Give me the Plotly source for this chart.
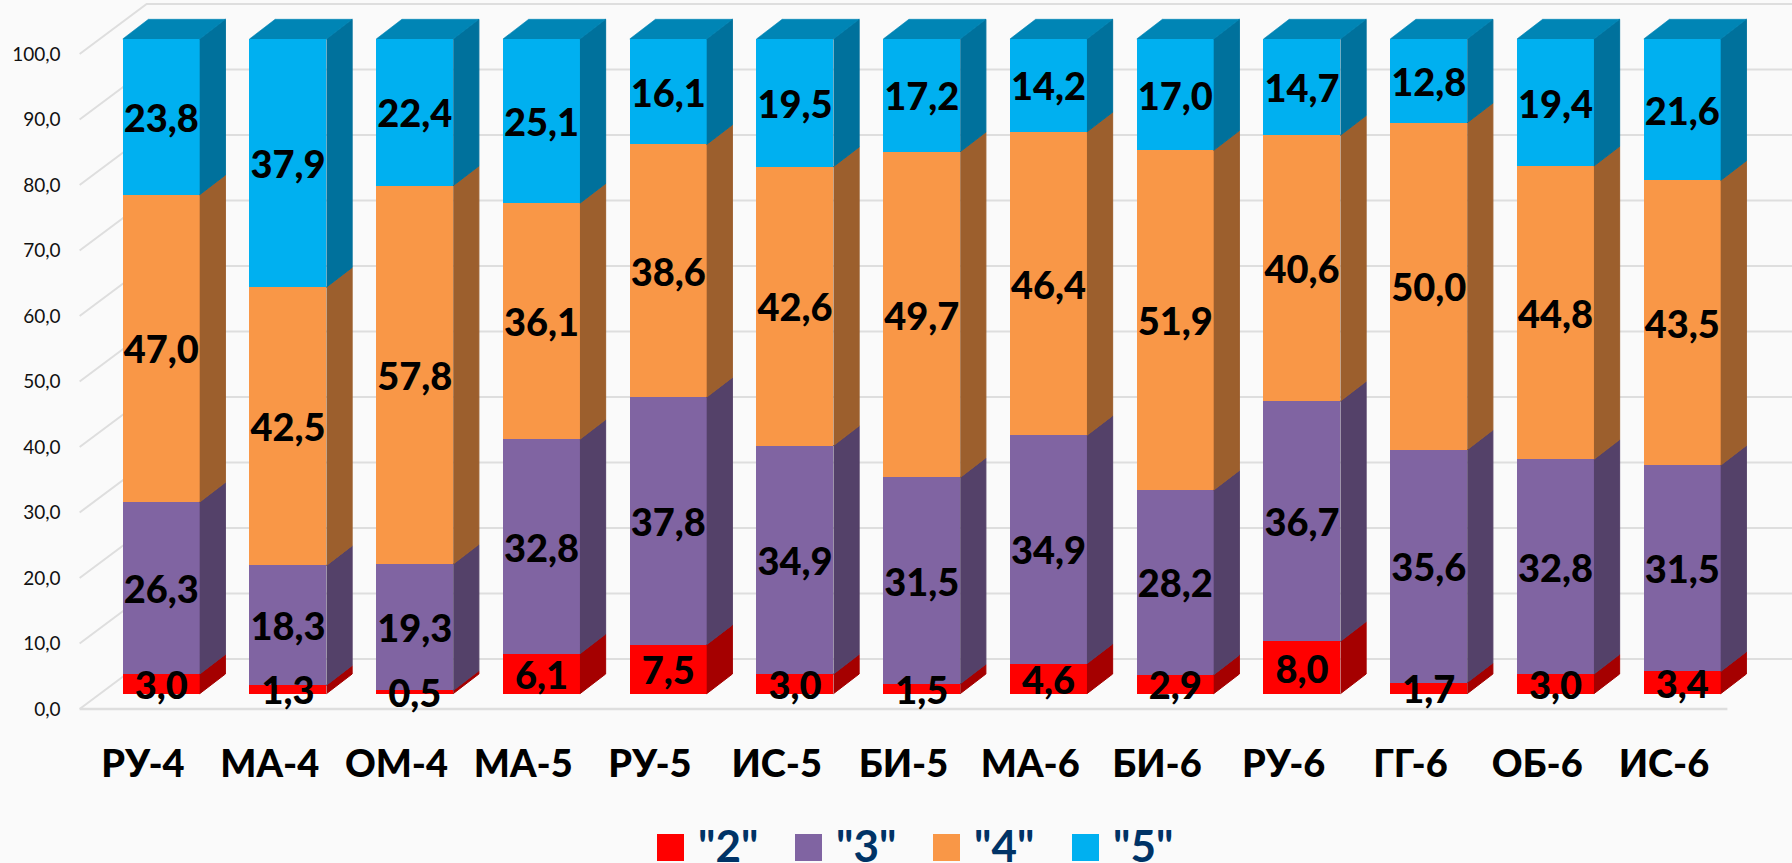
import plotly.graph_objects as go

categories = ["РУ-4", "МА-4", "ОМ-4", "МА-5", "РУ-5", "ИС-5", "БИ-5", "МА-6", "БИ-6", "РУ-6", "ГГ-6", "ОБ-6", "ИС-6"]
grade_2 = [3.0, 1.3, 0.5, 6.1, 7.5, 3.0, 1.5, 4.6, 2.9, 8.0, 1.7, 3.0, 3.4]
grade_3 = [26.3, 18.3, 19.3, 32.8, 37.8, 34.9, 31.5, 34.9, 28.2, 36.7, 35.6, 32.8, 31.5]
grade_4 = [47.0, 42.5, 57.8, 36.1, 38.6, 42.6, 49.7, 46.4, 51.9, 40.6, 50.0, 44.8, 43.5]
grade_5 = [23.8, 37.9, 22.4, 25.1, 16.1, 19.5, 17.2, 14.2, 17.0, 14.7, 12.8, 19.4, 21.6]
series_names = ['"2"', '"3"', '"4"', '"5"']
y_ticks = [0, 10, 20, 30, 40, 50, 60, 70, 80, 90, 100]

series_values = [grade_2, grade_3, grade_4, grade_5]
front_colors = ["#FF0000", "#8064A2", "#F99747", "#00B0F0"]
side_colors = ["#A50000", "#544169", "#9C5F2D", "#00719C"]
top_color = "#0085B5"
grid_color = "#DEDEDE"
bg_color = "#FAFAFA"
legend_text_color = "#003366"

W, H = 1792, 863
PITCH = 126.75
FONT = "Lato, 'Noto Sans', sans-serif"

# pixel anchors of the two coordinate systems (floor/wall axes and bar axes)
AX_X0, AX_Y0, AX_UNIT = 143.0, 709.0, 6.55
BAR_X0, BAR_Y0, BAR_UNIT = 161.2, 693.7, 6.547
BAR_W = 77 / PITCH
SIDE_DX, SIDE_DY = 25.7 / PITCH, 19.7 / BAR_UNIT
WALL_DX, WALL_DY = 67 / PITCH, 50 / AX_UNIT
LABEL_DROP = 5.5 / BAR_UNIT


def rng(x0, unit, size):
    return [-x0 / unit, (size - x0) / unit]


fig = go.Figure()

# back wall and floor lines on the lower axes
for v in y_ticks:
    fig.add_trace(go.Scatter(
        x=[-0.5, -0.5 + WALL_DX, 12.5 + WALL_DX + 1], y=[v, v + WALL_DY, v + WALL_DY],
        mode="lines", line=dict(color=grid_color, width=2), hoverinfo="skip", showlegend=False,
        xaxis="x", yaxis="y",
    ))
fig.add_trace(go.Scatter(
    x=[-0.5, 12.5], y=[0, 0], mode="lines", line=dict(color=grid_color, width=2.5),
    hoverinfo="skip", showlegend=False, xaxis="x", yaxis="y",
))

positions = list(range(len(categories)))
totals = [sum(s[i] for s in series_values) for i in positions]

# front faces
for name, vals, col in zip(series_names, series_values, front_colors):
    fig.add_trace(go.Bar(
        x=positions, y=vals, name=name, marker=dict(color=col, line=dict(width=0)),
        width=BAR_W, xaxis="x2", yaxis="y2", hoverinfo="skip", showlegend=False,
    ))

# side and top faces, derived from the same values
cum = [0.0] * len(positions)
label_x, label_y, label_t = [], [], []
for k, (vals, col) in enumerate(zip(series_values, side_colors)):
    sx, sy = [], []
    for i in positions:
        lo = cum[i] / totals[i] * 100
        cum[i] += vals[i]
        hi = cum[i] / totals[i] * 100
        r = i + BAR_W / 2
        sx += [r, r + SIDE_DX, r + SIDE_DX, r, None]
        sy += [lo, lo + SIDE_DY, hi + SIDE_DY, hi, None]
        label_x.append(i)
        label_y.append((lo + hi) / 2 - LABEL_DROP)
        label_t.append(f"{vals[i]:.1f}".replace(".", ","))
    fig.add_trace(go.Scatter(
        x=sx, y=sy, mode="lines", fill="toself", fillcolor=col, line=dict(color=col, width=1),
        hoverinfo="skip", showlegend=False, xaxis="x2", yaxis="y2",
    ))

tx, ty = [], []
for i in positions:
    l = i - BAR_W / 2
    r = i + BAR_W / 2
    tx += [l, l + SIDE_DX, r + SIDE_DX, r, None]
    ty += [100, 100 + SIDE_DY, 100 + SIDE_DY, 100, None]
fig.add_trace(go.Scatter(
    x=tx, y=ty, mode="lines", fill="toself", fillcolor=top_color, line=dict(color=top_color, width=0.6),
    hoverinfo="skip", showlegend=False, xaxis="x2", yaxis="y2",
))

fig.add_trace(go.Scatter(
    x=label_x, y=label_y, text=label_t, mode="text", textposition="middle center",
    textfont=dict(family=FONT, size=38, color="#000000", weight=900),
    hoverinfo="skip", showlegend=False, xaxis="x2", yaxis="y2", cliponaxis=False,
))

# legend row
shapes, annotations = [], []
LEG_X = [657, 795, 933, 1072]
for name, col, lx in zip(series_names, front_colors, LEG_X):
    shapes.append(dict(type="rect", xref="paper", yref="paper",
                       x0=lx / W, x1=(lx + 27) / W, y0=1 - 861 / H, y1=1 - 834 / H,
                       fillcolor=col, line=dict(width=0)))
    annotations.append(dict(xref="paper", yref="paper", x=(lx + 39) / W, y=1 - 845 / H,
                            xanchor="left", yanchor="middle", text=f"<b>{name}</b>", showarrow=False,
                            font=dict(family=FONT, size=44, color=legend_text_color)))

fig.update_layout(
    width=W, height=H, margin=dict(l=0, r=0, t=0, b=0),
    paper_bgcolor=bg_color, plot_bgcolor=bg_color,
    barmode="stack", barnorm="percent", showlegend=False,
    xaxis=dict(range=rng(AX_X0, PITCH, W), domain=[0, 1], anchor="free", position=1 - AX_Y0 / H,
               tickmode="array", tickvals=positions, ticktext=categories, showgrid=False, zeroline=False,
               showline=False, ticks="", ticklabelstandoff=29,
               tickfont=dict(family=FONT, size=38, color="#000000", weight=900)),
    yaxis=dict(range=rng(H - AX_Y0, AX_UNIT, H), domain=[0, 1], anchor="free", position=(AX_X0 - 0.5 * PITCH) / W,
               tickmode="array", tickvals=y_ticks, ticktext=[f"{v:.1f}".replace(".", ",") for v in y_ticks],
               showgrid=False, zeroline=False, showline=False, ticks="", ticklabelstandoff=19,
               tickfont=dict(family=FONT, size=19, color="#111111")),
    xaxis2=dict(range=rng(BAR_X0, PITCH, W), overlaying="x", visible=False, domain=[0, 1]),
    yaxis2=dict(range=rng(H - BAR_Y0, BAR_UNIT, H), overlaying="y", visible=False, domain=[0, 1]),
    shapes=shapes, annotations=annotations,
)

fig.write_html("out.html", config=dict(displayModeBar=False, staticPlot=True),
               post_script="document.body.style.margin='0';document.body.style.background='#FAFAFA';document.body.style.overflow='hidden';")
